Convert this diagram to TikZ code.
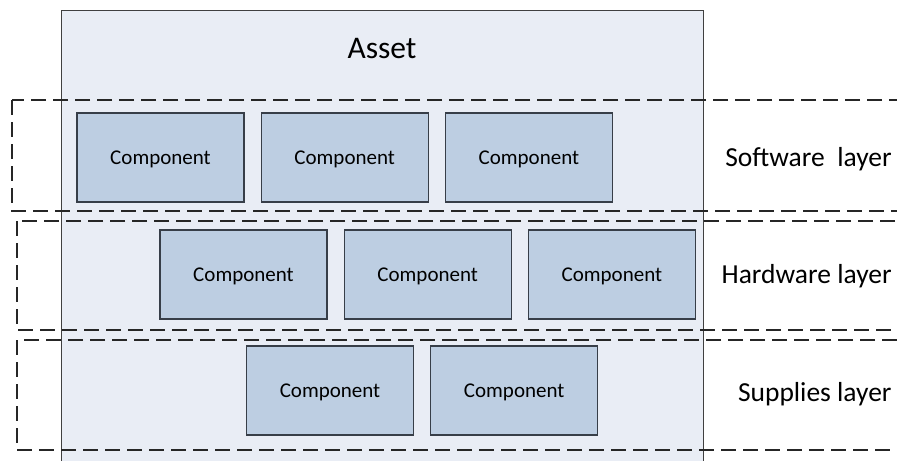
\documentclass[tikz,border=0pt]{standalone}
\usepackage{fontspec}
\setmainfont{Carlito}
\usepackage{tikz}
\usetikzlibrary{positioning}
\definecolor{assetfill}{RGB}{233,237,245}
\definecolor{compfill}{RGB}{189,206,226}
\definecolor{compline}{RGB}{55,62,72}
\tikzstyle{novertex} = [draw=none, fill=none, text centered]
\tikzstyle{asset} = [draw=black!75, fill=assetfill, line width=0.5pt]
\tikzstyle{layer} = [draw=black!85, line width=0.55pt, dash pattern=on 7.5pt off 3.5pt]
\tikzstyle{component} = [rectangle, draw=compline, fill=compfill, line width=0.6pt, minimum width=83.5pt, minimum height=44.5pt, inner sep=0pt, text height=7pt, text depth=0pt, text centered, font=\fontsize{10.5}{12}\selectfont]
\tikzstyle{layername} = [novertex, anchor=east, inner sep=0pt, font=\fontsize{13.75}{16}\selectfont]

\begin{document}
\begin{tikzpicture}[x=0.5pt, y=-0.5pt]
	\useasboundingbox (0,0) rectangle (897,460);
	\clip (0,0) rectangle (897,460);

	% asset box and title node
	\path [asset] (61,11) rectangle (703,480);
	\node [novertex, font=\fontsize{15.75}{18}\selectfont] (A) at (382,49) {Asset};

	% layer frames
	\path [layer] (12,100) rectangle (930,211);
	\path [layer] (17,221) rectangle (930,330);
	\path [layer] (17,340) rectangle (930,450);

	% software layer
	\node [component] (S1) at (160.5,157.5) {Component};
	\node [component, right=8pt of S1] (S2) {Component};
	\node [component, right=8pt of S2] (S3) {Component};

	% hardware layer
	\node [component] (H1) at (243.5,274.5) {Component};
	\node [component, right=8pt of H1] (H2) {Component};
	\node [component, right=8pt of H2] (H3) {Component};

	% supplies layer
	\node [component] (P1) at (330,390.5) {Component};
	\node [component, right=8pt of P1] (P2) {Component};

	% layer names
	\node [layername] (L1) at (892,159) {Software\ \ layer};
	\node [layername] (L2) at (892,276) {Hardware layer};
	\node [layername] (L3) at (892,394) {Supplies layer};
\end{tikzpicture}
\end{document}
